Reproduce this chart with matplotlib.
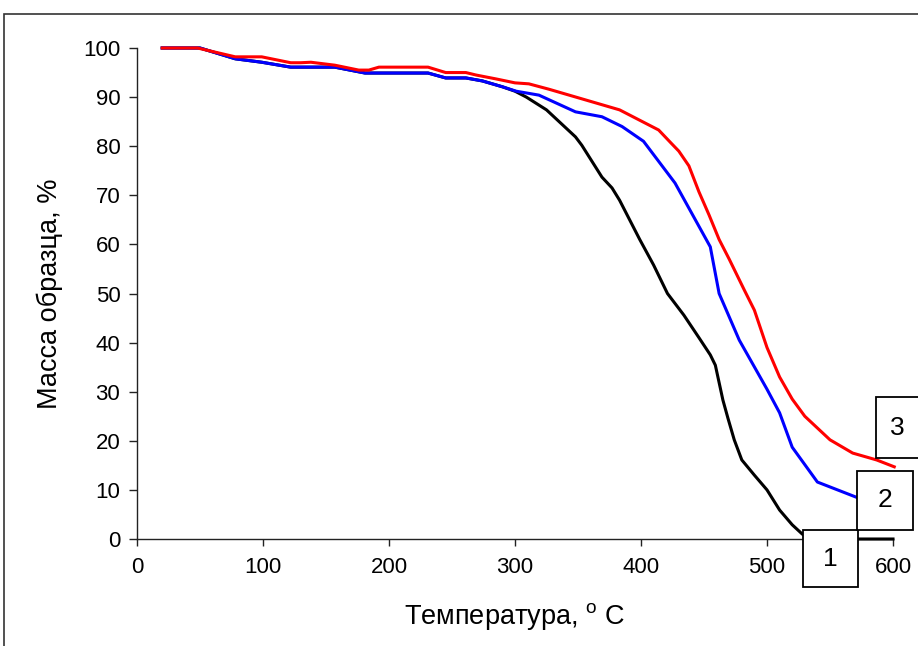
import matplotlib
matplotlib.use('Agg')
import matplotlib.pyplot as plt
from matplotlib.patches import Rectangle

plt.rcParams['font.family'] = ['Liberation Sans', 'DejaVu Sans']
plt.rcParams['mathtext.fontset'] = 'custom'
plt.rcParams['mathtext.rm'] = 'Liberation Sans'

# --- Data ---
t_black = [20, 50, 78, 99, 122, 157, 181, 231, 245, 261, 274, 290, 300, 309, 325, 348,
           353, 369, 377, 383, 399, 410, 421, 434, 446, 455, 459, 465, 469, 474, 480,
           490, 500, 510, 520, 528, 535, 600]
m_black = [100, 100, 97.8, 97.1, 96.1, 96.1, 94.9, 94.9, 93.9, 93.9, 93.3, 92.1, 91.2,
           90.0, 87.4, 81.9, 80.2, 73.7, 71.5, 69.0, 61.0, 55.8, 50.0, 45.6, 41.0, 37.5,
           35.4, 28.3, 24.6, 20.2, 16.1, 13.0, 10.0, 5.9, 2.9, 1.0, 0.0, 0.0]

t_blue = [20, 50, 78, 99, 122, 157, 181, 231, 245, 261, 274, 290, 301, 319, 348, 369,
          385, 402, 427, 455, 462, 478, 500, 510, 520, 540, 571]
m_blue = [100, 100, 97.8, 97.1, 96.1, 96.1, 94.9, 94.9, 93.9, 93.9, 93.3, 92.1, 91.2,
          90.4, 87.0, 86.0, 84.0, 81.0, 72.5, 59.5, 50.0, 40.5, 30.5, 25.7, 18.7, 11.6, 8.5]

t_red = [20, 48, 78, 99, 122, 130, 138, 157, 176, 184, 192, 231, 245, 261, 269, 285,
         300, 311, 327, 343, 383, 414, 424, 430, 438, 446, 454, 462, 470, 482, 490,
         500, 510, 520, 530, 550, 568, 587, 601]
m_red = [100, 100, 98.2, 98.2, 97.0, 97.0, 97.1, 96.5, 95.5, 95.5, 96.1, 96.1, 95.0,
         95.0, 94.5, 93.7, 92.9, 92.7, 91.6, 90.4, 87.4, 83.3, 80.6, 79.0, 76.0, 70.7,
         66.0, 61.0, 57.0, 50.7, 46.6, 39.0, 33.0, 28.5, 25.0, 20.2, 17.5, 16.1, 14.7]

box_labels = ['1', '2', '3']
# box corners in data units: (x0, x1, y0, y1)
box_pos = [(528.2, 572.0, -9.8, 1.8), (571.7, 615.8, 1.8, 13.9), (586.3, 621.0, 16.5, 28.9)]

fig = plt.figure(figsize=(9.18, 6.46), dpi=100)
ax = fig.add_axes([137 / 918, 107 / 646, 756 / 918, 491 / 646])

ax.plot(t_black, m_black, color='black', lw=2.2, clip_on=False, zorder=3)
ax.plot(t_blue, m_blue, color='#0000ff', lw=2.2, clip_on=False, zorder=3)
ax.plot(t_red, m_red, color='#ff0000', lw=2.2, clip_on=False, zorder=4)

# --- numbered boxes ---
for lab, (x0, x1, y0, y1) in zip(box_labels, box_pos):
    ax.add_patch(Rectangle((x0, y0), x1 - x0, y1 - y0, facecolor='white', edgecolor='black',
                           lw=1.3, clip_on=False, zorder=5))
    ax.text((x0 + x1) / 2, (y0 + y1) / 2, lab, ha='center', va='center', fontsize=19,
            zorder=6, clip_on=False)

ax.set_xlim(0, 600)
ax.set_ylim(0, 100)
ax.set_xticks(range(0, 601, 100))
ax.set_yticks(range(0, 101, 10))
ax.tick_params(axis='both', direction='out', length=6, width=1, labelsize=16, color='#222222')
ax.tick_params(axis='x', length=5, pad=8)
ax.tick_params(axis='y', pad=6)
ax.spines['top'].set_visible(False)
ax.spines['right'].set_visible(False)
for s in ['left', 'bottom']:
    ax.spines[s].set_color('#222222')
    ax.spines[s].set_linewidth(1)

ax.set_ylabel('Масса образца, %', fontsize=19.5, va='center')
ax.yaxis.set_label_coords((50 - 137) / 756, 0.5)
ax.set_xlabel(r'Температура, $^{\mathrm{o}}$ C', fontsize=19.5, va='center')
ax.xaxis.set_label_coords((515 - 137) / 756, (539 - 617) / 491)

# outer chart frame (runs past the image edges)
fig.add_artist(Rectangle((4 / 918, -0.1), 1.2, 1 - 14 / 646 + 0.1, transform=fig.transFigure,
                         facecolor='none', edgecolor='#333333', lw=1.2))

fig.savefig('out.png', dpi=100)
